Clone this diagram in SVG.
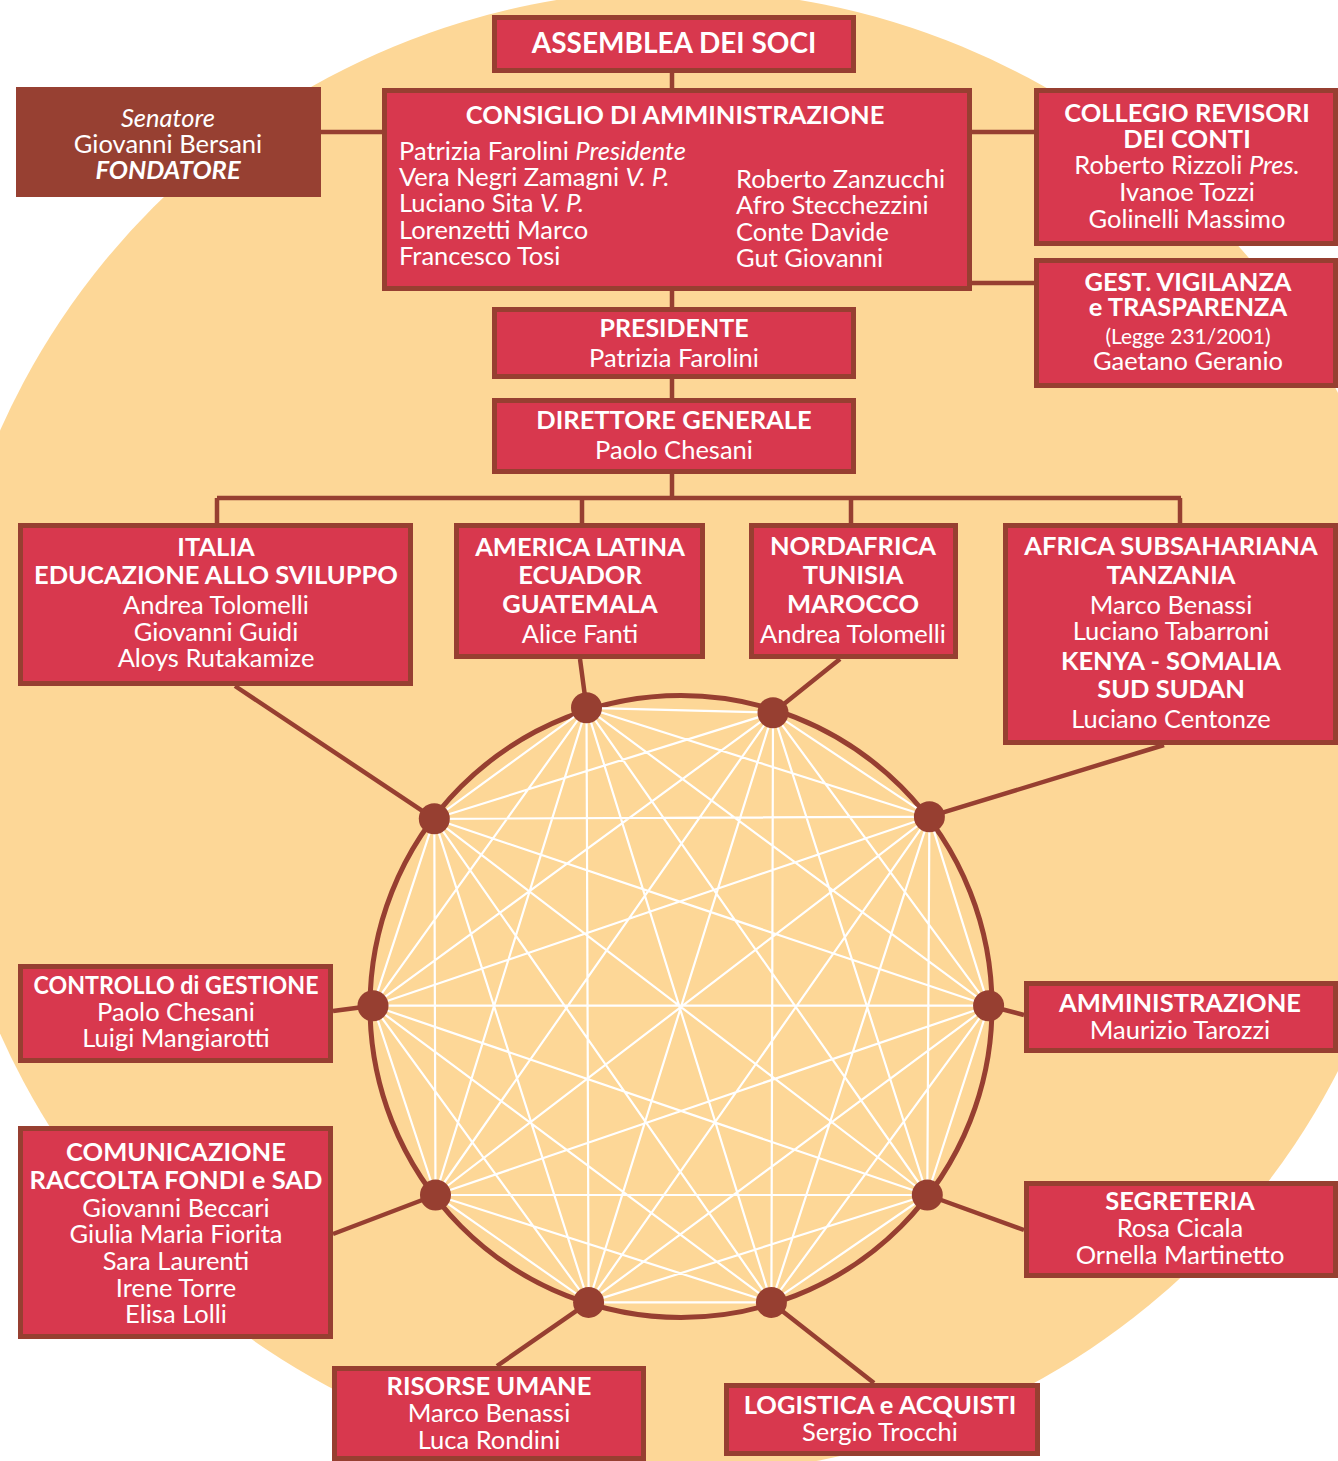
<svg xmlns="http://www.w3.org/2000/svg" width="1338" height="1461" viewBox="0 0 1338 1461">
<style>
.bg{fill:#FDD797}
.box{fill:#D8384E;stroke:#973F31;stroke-width:5}
.fond{fill:#974032}
.con{stroke:#973F31;stroke-width:4.5;fill:none}
.ring{stroke:#973F31;stroke-width:5;fill:none}
.chord{stroke:#FFFFFF;stroke-width:2.2}
.dot{fill:#973F31}
text{font-family:Lato,"Liberation Sans",sans-serif;fill:#FFFFFF;text-anchor:middle}
.b{font-weight:700;font-size:25.5px}
.r{font-weight:400;font-size:25.5px}
.s{font-weight:400;font-size:21px}
.l{text-anchor:start}
.i{font-style:italic}
</style>
<circle class="bg" cx="678" cy="732" r="742"/>

<g id="connectors">
<path class="con" d="M672 73V88M321 132H382M972 132H1034M972 283H1034M672 291V307M672 379V398M672 474V498M217 498H1181M217 498V523M582 498V523M851 498V523M1180 498V523"/>
<path class="con" d="M235 686L434.3 818.8M580 659L586.5 707.8M840 659L773 712.7M1164 745L929.4 816.7M988.6 1005.7L1024 1015M927.3 1195L1024 1230M771.4 1302.4L874 1383M588.6 1302.4L497 1366M435.5 1195L333 1234M373 1005.7L333 1011"/>
</g>

<g id="network">
<circle class="ring" cx="681" cy="1006.5" r="311"/>
<g id="chords" class="chord">
<path d="M586.5 707.8L773 712.7M586.5 707.8L929.4 816.7M586.5 707.8L988.6 1005.7M586.5 707.8L927.3 1195M586.5 707.8L771.4 1302.4M586.5 707.8L588.6 1302.4M586.5 707.8L435.5 1195M586.5 707.8L373 1005.7M586.5 707.8L434.3 818.8
M773 712.7L929.4 816.7M773 712.7L988.6 1005.7M773 712.7L927.3 1195M773 712.7L771.4 1302.4M773 712.7L588.6 1302.4M773 712.7L435.5 1195M773 712.7L373 1005.7M773 712.7L434.3 818.8
M929.4 816.7L988.6 1005.7M929.4 816.7L927.3 1195M929.4 816.7L771.4 1302.4M929.4 816.7L588.6 1302.4M929.4 816.7L435.5 1195M929.4 816.7L373 1005.7M929.4 816.7L434.3 818.8
M988.6 1005.7L927.3 1195M988.6 1005.7L771.4 1302.4M988.6 1005.7L588.6 1302.4M988.6 1005.7L435.5 1195M988.6 1005.7L373 1005.7M988.6 1005.7L434.3 818.8
M927.3 1195L771.4 1302.4M927.3 1195L588.6 1302.4M927.3 1195L435.5 1195M927.3 1195L373 1005.7M927.3 1195L434.3 818.8
M771.4 1302.4L588.6 1302.4M771.4 1302.4L435.5 1195M771.4 1302.4L373 1005.7M771.4 1302.4L434.3 818.8
M588.6 1302.4L435.5 1195M588.6 1302.4L373 1005.7M588.6 1302.4L434.3 818.8
M435.5 1195L373 1005.7M435.5 1195L434.3 818.8
M373 1005.7L434.3 818.8"/>
</g>
<g id="dots" class="dot">
<circle cx="586.5" cy="707.8" r="15.5"/>
<circle cx="773" cy="712.7" r="15.5"/>
<circle cx="929.4" cy="816.7" r="15.5"/>
<circle cx="988.6" cy="1005.7" r="15.5"/>
<circle cx="927.3" cy="1195" r="15.5"/>
<circle cx="771.4" cy="1302.4" r="15.5"/>
<circle cx="588.6" cy="1302.4" r="15.5"/>
<circle cx="435.5" cy="1195" r="15.5"/>
<circle cx="373" cy="1005.7" r="15.5"/>
<circle cx="434.3" cy="818.8" r="15.5"/>
</g>
</g>

<g id="assemblea">
<rect class="box" x="494.5" y="17.5" width="359" height="53"/>
<text class="b" x="674" y="53" style="font-size:28px">ASSEMBLEA DEI SOCI</text>
</g>

<g id="fondatore">
<rect class="fond" x="16" y="87" width="305" height="110"/>
<text class="r i" x="168" y="127">Senatore</text>
<text class="r" x="168" y="153">Giovanni Bersani</text>
<text class="b i" x="168" y="179">FONDATORE</text>
</g>

<g id="consiglio">
<rect class="box" x="384.5" y="90.5" width="585" height="198"/>
<text class="b" x="675" y="124">CONSIGLIO DI AMMINISTRAZIONE</text>
<text class="r l" x="399" y="160">Patrizia Farolini <tspan class="i">Presidente</tspan></text>
<text class="r l" x="399" y="186">Vera Negri Zamagni <tspan class="i">V. P.</tspan></text>
<text class="r l" x="399" y="212">Luciano Sita <tspan class="i">V. P.</tspan></text>
<text class="r l" x="399" y="239">Lorenzetti Marco</text>
<text class="r l" x="399" y="265">Francesco Tosi</text>
<text class="r l" x="736" y="188">Roberto Zanzucchi</text>
<text class="r l" x="736" y="214">Afro Stecchezzini</text>
<text class="r l" x="736" y="241">Conte Davide</text>
<text class="r l" x="736" y="267">Gut Giovanni</text>
</g>

<g id="collegio">
<rect class="box" x="1036.5" y="90.5" width="299" height="153"/>
<text class="b" x="1187" y="122">COLLEGIO REVISORI</text>
<text class="b" x="1187" y="148">DEI CONTI</text>
<text class="r" x="1187" y="174">Roberto Rizzoli <tspan class="i">Pres.</tspan></text>
<text class="r" x="1187" y="201">Ivanoe Tozzi</text>
<text class="r" x="1187" y="228">Golinelli Massimo</text>
</g>

<g id="vigilanza">
<rect class="box" x="1036.5" y="260.5" width="299" height="125"/>
<text class="b" x="1188" y="291">GEST. VIGILANZA</text>
<text class="b" x="1188" y="316">e TRASPARENZA</text>
<text class="s" x="1188" y="344">(Legge 231/2001)</text>
<text class="r" x="1188" y="370">Gaetano Geranio</text>
</g>

<g id="presidente">
<rect class="box" x="494.5" y="309.5" width="359" height="67"/>
<text class="b" x="674" y="337" style="font-size:25px">PRESIDENTE</text>
<text class="r" x="674" y="367">Patrizia Farolini</text>
</g>

<g id="direttore">
<rect class="box" x="494.5" y="400.5" width="359" height="71"/>
<text class="b" x="674" y="429">DIRETTORE GENERALE</text>
<text class="r" x="674" y="459">Paolo Chesani</text>
</g>

<g id="italia">
<rect class="box" x="20.5" y="525.5" width="390" height="158"/>
<text class="b" x="216" y="556">ITALIA</text>
<text class="b" x="216" y="584">EDUCAZIONE ALLO SVILUPPO</text>
<text class="r" x="216" y="614">Andrea Tolomelli</text>
<text class="r" x="216" y="641">Giovanni Guidi</text>
<text class="r" x="216" y="667">Aloys Rutakamize</text>
</g>

<g id="america-latina">
<rect class="box" x="456.5" y="525.5" width="246" height="131"/>
<text class="b" x="580" y="556">AMERICA LATINA</text>
<text class="b" x="580" y="584">ECUADOR</text>
<text class="b" x="580" y="613">GUATEMALA</text>
<text class="r" x="580" y="643">Alice Fanti</text>
</g>

<g id="nordafrica">
<rect class="box" x="751.5" y="525.5" width="204" height="131"/>
<text class="b" x="853" y="555">NORDAFRICA</text>
<text class="b" x="853" y="584">TUNISIA</text>
<text class="b" x="853" y="613">MAROCCO</text>
<text class="r" x="853" y="643">Andrea Tolomelli</text>
</g>

<g id="africa-subsahariana">
<rect class="box" x="1005.5" y="525.5" width="330" height="217"/>
<text class="b" x="1171" y="555">AFRICA SUBSAHARIANA</text>
<text class="b" x="1171" y="584">TANZANIA</text>
<text class="r" x="1171" y="614">Marco Benassi</text>
<text class="r" x="1171" y="640">Luciano Tabarroni</text>
<text class="b" x="1171" y="670">KENYA - SOMALIA</text>
<text class="b" x="1171" y="698">SUD SUDAN</text>
<text class="r" x="1171" y="728">Luciano Centonze</text>
</g>

<g id="controllo">
<rect class="box" x="20.5" y="966.5" width="310" height="94"/>
<text class="b" x="176" y="994" textLength="285" lengthAdjust="spacingAndGlyphs">CONTROLLO di GESTIONE</text>
<text class="r" x="176" y="1021">Paolo Chesani</text>
<text class="r" x="176" y="1047">Luigi Mangiarotti</text>
</g>

<g id="comunicazione">
<rect class="box" x="20.5" y="1128.5" width="310" height="208"/>
<text class="b" x="176" y="1161">COMUNICAZIONE</text>
<text class="b" x="176" y="1189">RACCOLTA FONDI e SAD</text>
<text class="r" x="176" y="1217">Giovanni Beccari</text>
<text class="r" x="176" y="1243">Giulia Maria Fiorita</text>
<text class="r" x="176" y="1270">Sara Laurenti</text>
<text class="r" x="176" y="1297">Irene Torre</text>
<text class="r" x="176" y="1323">Elisa Lolli</text>
</g>

<g id="risorse-umane">
<rect class="box" x="334.5" y="1368.5" width="309" height="90"/>
<text class="b" x="489" y="1395">RISORSE UMANE</text>
<text class="r" x="489" y="1422">Marco Benassi</text>
<text class="r" x="489" y="1449">Luca Rondini</text>
</g>

<g id="logistica">
<rect class="box" x="726.5" y="1385.5" width="311" height="68"/>
<text class="b" x="880" y="1414">LOGISTICA e ACQUISTI</text>
<text class="r" x="880" y="1441">Sergio Trocchi</text>
</g>

<g id="segreteria">
<rect class="box" x="1026.5" y="1183.5" width="309" height="92"/>
<text class="b" x="1180" y="1210">SEGRETERIA</text>
<text class="r" x="1180" y="1237">Rosa Cicala</text>
<text class="r" x="1180" y="1264">Ornella Martinetto</text>
</g>

<g id="amministrazione">
<rect class="box" x="1026.5" y="983.5" width="309" height="67"/>
<text class="b" x="1180" y="1012">AMMINISTRAZIONE</text>
<text class="r" x="1180" y="1039">Maurizio Tarozzi</text>
</g>
</svg>
